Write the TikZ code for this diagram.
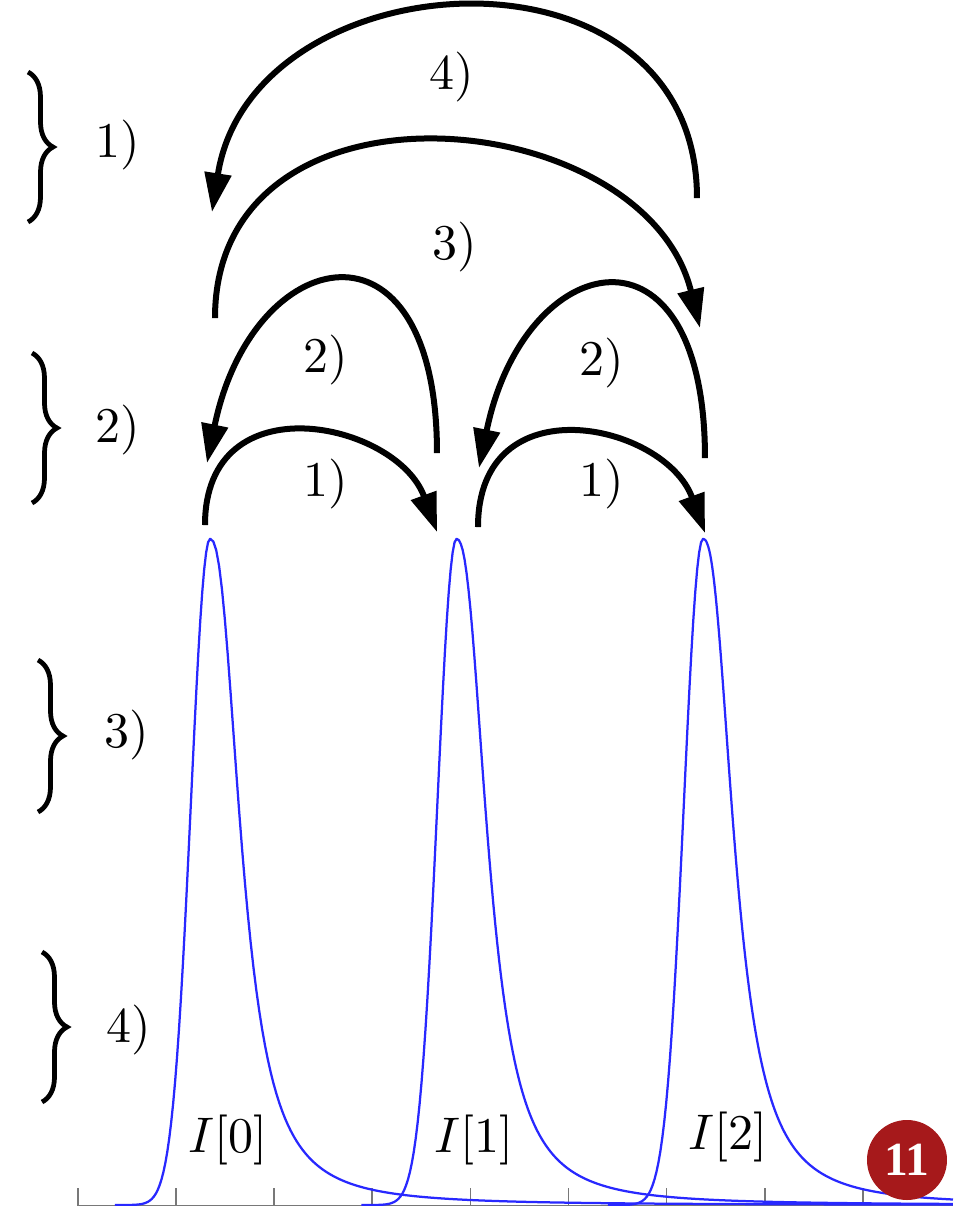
\documentclass[tikz,border=0pt]{standalone}
\usepackage{fontspec}
\newfontfamily\numfont{Liberation Serif}
\usetikzlibrary{arrows.meta,decorations.pathreplacing}
\definecolor{badge}{RGB}{166,25,27}
\definecolor{tickgray}{RGB}{120,120,120}
\definecolor{peakblue}{RGB}{40,40,255}
\begin{document}
\begin{tikzpicture}[x=0.2pt,y=-0.2pt,
  arr/.style={line width=1.2pt,-{Triangle[length=7.8pt,width=5.2pt]}},
  peak/.style={draw=peakblue,line width=0.45pt},
  axisline/.style={draw=tickgray,line width=0.35pt},
  lbl/.style={font=\fontsize{10}{12}\selectfont,inner sep=0pt},
  brc/.style={decorate,decoration={brace,amplitude=5pt},line width=0.95pt},
  badgestyle/.style={circle,fill=badge,minimum size=16pt,inner sep=0pt,text=white,
    font=\numfont\bfseries\fontsize{9.5}{10}\selectfont}]
\fill[white] (0,0) rectangle (953,1206);
\useasboundingbox (0,0) rectangle (953,1206);

% axis and ticks
\draw[axisline] (78,1205.5) -- (953,1205.5);
\foreach \t in {0,...,8}
  \draw[axisline] ({78+98.1*\t},1188) -- ({78+98.1*\t},1206);

% peaks
\foreach \p in {210,456.5,703} {
  \draw[peak] plot[domain=-95:0,samples=50] ({\p+\x},{1205-666*exp(-(\x*\x)/722)})
    -- plot[domain=0.5:{953-\p},samples=260] ({\p+\x},{1205-666/(1+(\x/34)^2.4)});
}
\node[lbl] (i0) at (228,1140) {$I[0]$};
\node[lbl] (i1) at (474,1140) {$I[1]$};
\node[lbl] (i2) at (728,1137) {$I[2]$};

% braces
\coordinate (b1t) at (28,72);  \coordinate (b1b) at (28,222);
\coordinate (b2t) at (32,353); \coordinate (b2b) at (32,503);
\coordinate (b3t) at (38,660); \coordinate (b3b) at (38,812);
\coordinate (b4t) at (42,952); \coordinate (b4b) at (42,1102);
\draw[brc] (b1t) -- (b1b);
\draw[brc] (b2t) -- (b2b);
\draw[brc] (b3t) -- (b3b);
\draw[brc] (b4t) -- (b4b);
\node[lbl] (s1) at (118,145) {1)};
\node[lbl] (s2) at (118,430) {2)};
\node[lbl] (s3) at (127,735) {3)};
\node[lbl] (s4) at (129,1030) {4)};

% arrow end points
\coordinate (a1ls) at (205,525); \coordinate (a1le) at (437,532);
\coordinate (a1rs) at (478,527); \coordinate (a1re) at (705,533);
\coordinate (a2ls) at (437,453); \coordinate (a2le) at (207,463);
\coordinate (a2rs) at (705,458); \coordinate (a2re) at (479,468);
\coordinate (a3s) at (215,318);  \coordinate (a3e) at (700,328);
\coordinate (a4s) at (697,198);  \coordinate (a4e) at (212,212);

\draw[arr] (a1ls) .. controls +(0,-145) and +(-40,-110) .. (a1le);
\draw[arr] (a1rs) .. controls +(0,-145) and +(-40,-110) .. (a1re);
\draw[arr] (a2ls) .. controls +(0,-250) and +(45,-220) .. (a2le);
\draw[arr] (a2rs) .. controls +(0,-250) and +(45,-220) .. (a2re);
\draw[arr] (a3s) .. controls +(0,-255) and +(-55,-225) .. (a3e);
\draw[arr] (a4s) .. controls +(0,-269) and +(40,-256) .. (a4e);

\node[lbl] (t4) at (452,77) {4)};
\node[lbl] (t3) at (455,247) {3)};
\node[lbl] (t2l) at (326,360) {2)};
\node[lbl] (t2r) at (602,363) {2)};
\node[lbl] (t1l) at (326,484) {1)};
\node[lbl] (t1r) at (602,484) {1)};

% badge
\node[badgestyle] (badge) at (907,1160) {11};
\end{tikzpicture}
\end{document}
